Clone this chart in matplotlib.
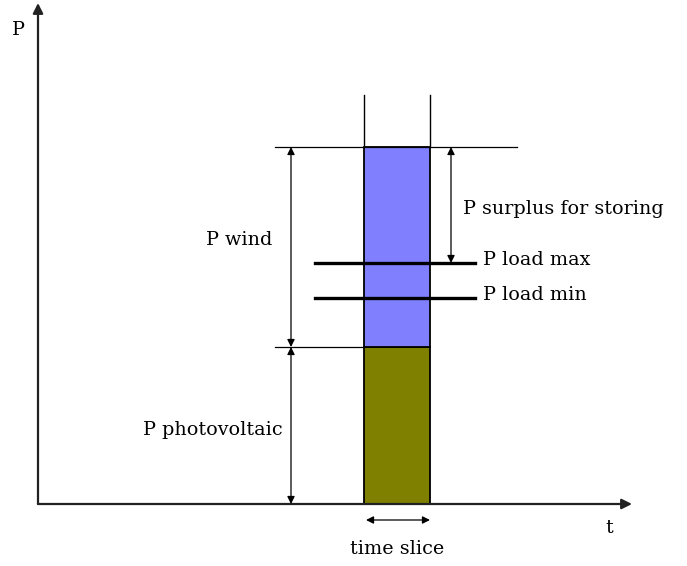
import matplotlib.pyplot as plt
from matplotlib.patches import Rectangle

# Valores del diagrama (unidades arbitrarias, origen en el cruce de ejes)
p_photovoltaic = 157
p_wind = 200
p_load_max = 241
p_load_min = 206
t_start = 326
t_end = 392

p_total = p_photovoltaic + p_wind

plt.rcParams['font.family'] = ['DejaVu Serif']
fs = 13.8

fig = plt.figure(figsize=(6.87, 5.66), dpi=100)
ax = fig.add_axes([0, 0, 1, 1])
ax.set_xlim(-38, 649)
ax.set_ylim(-62, 504)
ax.axis('off')

# Ejes con flecha
ax.annotate('', xy=(0, 501), xytext=(0, 0),
            arrowprops=dict(arrowstyle='-|>', lw=1.6, color='#222222',
                            mutation_scale=15, shrinkA=0, shrinkB=0))
ax.annotate('', xy=(594, 0), xytext=(0, 0),
            arrowprops=dict(arrowstyle='-|>', lw=1.6, color='#222222',
                            mutation_scale=15, shrinkA=0, shrinkB=0))
ax.text(-20, 474, 'P', fontsize=fs, ha='center', va='center')
ax.text(571, -24, 't', fontsize=fs, ha='center', va='center')

# Barras apiladas
w = t_end - t_start
ax.add_patch(Rectangle((t_start, 0), w, p_photovoltaic, facecolor='#808000',
                       edgecolor='black', lw=1.3, zorder=2))
ax.add_patch(Rectangle((t_start, p_photovoltaic), w, p_wind, facecolor='#8080ff',
                       edgecolor='black', lw=1.3, zorder=2))

# Lineas verticales del intervalo
for tx in [t_start, t_end]:
    ax.plot([tx, tx], [p_total, p_total + 52], color='black', lw=1.0)

# Lineas horizontales de referencia
ax.plot([237, 479], [p_total, p_total], color='black', lw=0.9)
ax.plot([237, t_start], [p_photovoltaic, p_photovoltaic], color='black', lw=0.9)

# Cargas
ax.plot([277, 437], [p_load_max, p_load_max], color='black', lw=2.4, zorder=3)
ax.plot([277, 437], [p_load_min, p_load_min], color='black', lw=2.4, zorder=3)

arr = dict(arrowstyle='<|-|>', lw=0.9, color='black', mutation_scale=11,
           shrinkA=0, shrinkB=0)
ax.annotate('', xy=(253, p_total), xytext=(253, p_photovoltaic), arrowprops=arr)
ax.annotate('', xy=(253, p_photovoltaic), xytext=(253, 0), arrowprops=arr)
ax.annotate('', xy=(413, p_total), xytext=(413, p_load_max), arrowprops=arr)
ax.annotate('', xy=(t_start + 2, -16), xytext=(t_end, -16), arrowprops=arr)

# Etiquetas
ax.text(234, 264, 'P wind', fontsize=fs, ha='right', va='center')
ax.text(245, 74, 'P photovoltaic', fontsize=fs, ha='right', va='center')
ax.text(425, 295, 'P surplus for storing', fontsize=fs, ha='left', va='center')
ax.text(445, p_load_max + 3, 'P load max', fontsize=fs, ha='left', va='center')
ax.text(445, p_load_min + 3, 'P load min', fontsize=fs, ha='left', va='center')
ax.text(359, -45, 'time slice', fontsize=fs, ha='center', va='center')

fig.savefig('out.png', dpi=100)
